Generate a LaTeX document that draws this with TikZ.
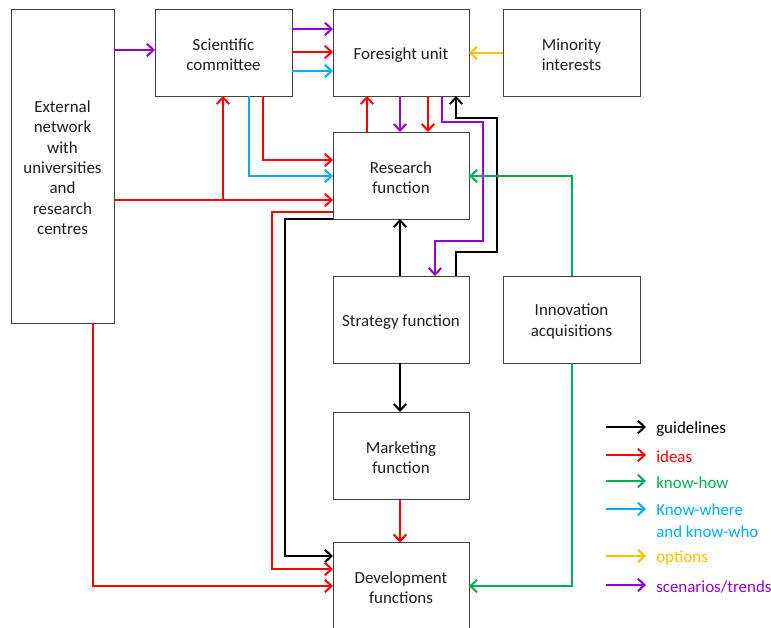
\documentclass[tikz,border=0pt]{standalone}
\usepackage{fontspec}
\setmainfont{Carlito}
\usetikzlibrary{arrows.meta}
\definecolor{cred}{RGB}{255,0,0}
\definecolor{cgreen}{RGB}{0,176,80}
\definecolor{cblue}{RGB}{0,176,240}
\definecolor{corange}{RGB}{255,192,0}
\definecolor{cpurple}{RGB}{150,0,210}
\definecolor{ctext}{RGB}{30,30,30}
\tikzset{
  box/.style={draw=black!75, line width=0.75pt, inner sep=2pt, outer sep=0pt,
    align=center, text=ctext, font=\fontsize{12.7}{15.3}\selectfont,
    minimum width=102pt, minimum height=65.25pt},
  oneline/.style={text height=12pt},
  twoline/.style={text height=27pt},
  flow/.style={line width=1.5pt, -{Straight Barb[length=5pt,width=9.5pt,line width=1.5pt]}},
  legtext/.style={anchor=west, inner sep=0pt, align=left, font=\fontsize{12.7}{16.5}\selectfont}
}
\begin{document}
\begin{tikzpicture}[x=0.75pt,y=-0.75pt]
\useasboundingbox (0,0) rectangle (771,628);

% boxes
\node[box, text height=103pt, minimum width=77.25pt, minimum height=235.5pt] (ext) at (62.5,166)
  {External\\network\\with\\universities\\and\\research\\centres};
\node[box, twoline, minimum width=102.75pt] (sci) at (223.5,52.5) {Scientific\\committee};
\node[box, oneline] (fore) at (401,52.5) {Foresight unit};
\node[box, twoline, minimum width=102.75pt] (mino) at (571.5,52.5) {Minority\\interests};
\node[box, twoline] (res) at (401,175.5) {Research\\function};
\node[box, oneline] (strat) at (401,319.5) {Strategy function};
\node[box, twoline, minimum width=102.75pt] (innov) at (571.5,319.5) {Innovation\\acquisitions};
\node[box, twoline] (mkt) at (401,455.5) {Marketing\\function};
\node[box, twoline] (dev) at (401,586) {Development\\functions};

% external network and scientific committee
\draw[flow, cpurple] (ext.east |- 0,50) -- (sci.west |- 0,50);
\draw[flow, cpurple] (sci.east |- 0,29) -- (fore.west |- 0,29);
\draw[flow, cred] (sci.east |- 0,52) -- (fore.west |- 0,52);
\draw[flow, cblue] (sci.east |- 0,71) -- (fore.west |- 0,71);
\draw[flow, corange] (mino.west |- 0,53) -- (fore.east |- 0,53);
\draw[flow, cblue] (sci.south -| 249,0) |- (res.west |- 0,176);
\draw[flow, cred] (sci.south -| 263,0) |- (res.west |- 0,160);
\coordinate (j1) at (223,200);
\draw[flow, cred] (ext.east |- 0,200) -- (res.west |- 0,200);
\draw[flow, cred] (j1) -- (sci.south -| j1);

% foresight unit and research function
\draw[flow, cred] (res.north -| 367,0) -- (fore.south -| 367,0);
\draw[flow, cpurple] (fore.south -| 400,0) -- (res.north -| 400,0);
\draw[flow, cred] (fore.south -| 428,0) -- (res.north -| 428,0);
\draw[flow, cpurple] (fore.south -| 442,0) -- (442,122) -- (483,122) -- (483,241)
  -- (435,241) -- (strat.north -| 435,0);
\draw[flow, black] (strat.north -| 456,0) -- (456,252) -- (497,252) -- (497,118)
  -- (456,118) -- (fore.south -| 456,0);

% strategy, marketing and development
\draw[flow, black] (strat.north -| 400,0) -- (res.south -| 400,0);
\draw[flow, black] (strat.south -| 400,0) -- (mkt.north -| 400,0);
\draw[flow, cred] (mkt.south -| 400,0) -- (dev.north -| 400,0);
\draw[flow, black] (res.south west) -| (285,556) -- (dev.west |- 0,556);
\draw[flow, cred] (res.west |- 0,212) -| (272,569) -- (dev.west |- 0,569);
\draw[flow, cred] (ext.south -| 93,0) |- (dev.west |- 0,586);

% innovation acquisitions
\draw[flow, cgreen] (innov.north -| 572,0) |- (res.east |- 0,176);
\draw[flow, cgreen] (innov.south -| 572,0) |- (dev.east |- 0,586);

% legend
\foreach \i/\yy/\cc in {1/427/black, 2/455/cred, 3/481/cgreen, 4/509/cblue, 5/556/corange, 6/585/cpurple}{
  \coordinate (ka\i) at (606,\yy);
  \coordinate (kb\i) at (646,\yy);
  \draw[flow, \cc] (ka\i) -- (kb\i);
}
\node[legtext, text=black] (l1) at (656,429) {guidelines};
\node[legtext, text=cred] (l2) at (656,457) {ideas};
\node[legtext, text=cgreen] (l3) at (656,483) {know-how};
\node[legtext, text=cblue] (l4) at (656,521) {Know-where\\and know-who};
\node[legtext, text=corange] (l5) at (656,558) {options};
\node[legtext, text=cpurple] (l6) at (656,587) {scenarios/trends};
\end{tikzpicture}
\end{document}
